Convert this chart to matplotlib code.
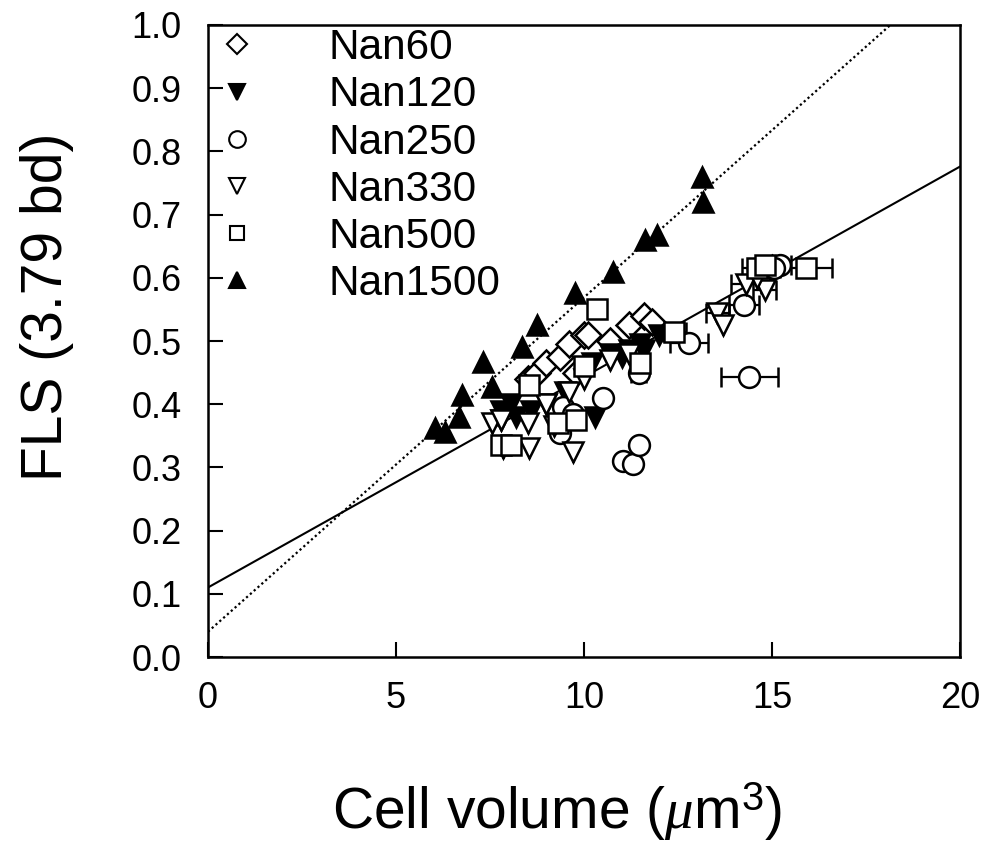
import numpy as np
import matplotlib
matplotlib.use("Agg")
import matplotlib.pyplot as plt
from matplotlib.lines import Line2D

plt.rcParams['font.family'] = ['Liberation Sans', 'DejaVu Sans']
plt.rcParams['mathtext.fontset'] = 'custom'
plt.rcParams['mathtext.it'] = 'Liberation Serif:italic'
plt.rcParams['mathtext.rm'] = 'Liberation Sans'

# données : (volume cellulaire, FLS)
nan60_x = [8.5, 8.75, 9.0, 9.35, 9.6, 9.8, 10.0, 10.1, 10.7, 11.2, 11.6, 11.8, 15.0]
nan60_y = [0.44, 0.45, 0.465, 0.475, 0.495, 0.45, 0.51, 0.51, 0.50, 0.525, 0.54, 0.53, 0.615]

nan120_x = [7.8, 7.8, 8.05, 8.2, 8.6, 9.0, 9.5, 10.1, 10.2, 10.3, 10.7, 11.0, 11.2, 11.5, 11.6, 12.0]
nan120_y = [0.39, 0.375, 0.40, 0.38, 0.39, 0.40, 0.42, 0.455, 0.465, 0.38, 0.48, 0.475, 0.485, 0.495, 0.485, 0.51]

nan250_x = [9.45, 9.35, 9.7, 10.5, 11.05, 11.3, 11.45, 11.45, 12.8, 14.4, 14.25, 15.2, 15.05]
nan250_y = [0.395, 0.355, 0.385, 0.41, 0.31, 0.305, 0.335, 0.45, 0.497, 0.443, 0.557, 0.62, 0.615]
nan250_xerr = [0, 0, 0, 0, 0, 0, 0, 0.2, 0.5, 0.75, 0.4, 0.3, 0]

nan330_x = [7.55, 7.8, 7.85, 8.5, 8.55, 9.2, 9.7, 9.0, 9.6, 10.0, 10.7, 11.2, 13.55, 13.7, 14.3, 14.8, 14.6]
nan330_y = [0.37, 0.375, 0.33, 0.37, 0.33, 0.365, 0.325, 0.40, 0.42, 0.44, 0.47, 0.48, 0.545, 0.525, 0.59, 0.58, 0.60]
nan330_xerr = [0, 0, 0, 0, 0, 0, 0, 0, 0, 0, 0, 0, 0.3, 0, 0.4, 0.3, 0]

nan500_x = [7.8, 8.05, 8.55, 9.3, 9.8, 10.35, 10.0, 11.5, 12.4, 14.6, 14.8, 15.9]
nan500_y = [0.335, 0.335, 0.43, 0.37, 0.375, 0.55, 0.46, 0.465, 0.515, 0.615, 0.62, 0.615]
nan500_xerr = [0, 0, 0, 0, 0, 0, 0, 0, 0.3, 0.4, 0, 0.7]

nan1500_x = [6.04, 6.3, 6.68, 6.75, 7.31, 7.55, 8.35, 8.75, 9.76, 10.77, 11.62, 11.94, 13.14, 13.16]
nan1500_y = [0.362, 0.356, 0.38, 0.415, 0.467, 0.427, 0.49, 0.525, 0.576, 0.609, 0.66, 0.668, 0.76, 0.72]

# droites de régression (ordonnée, pente)
fit_solid = (0.11, 0.0333)
fit_dotted = (0.04, 0.0529)

fig = plt.figure(figsize=(9.88, 8.47), dpi=100)
ax = fig.add_axes([0.2105, 0.2243, 0.7612, 0.7462])

xx = np.array([0, 20])
ax.plot(xx, fit_solid[0] + fit_solid[1] * xx, color='black', lw=1.5, zorder=1)
ax.plot(xx, fit_dotted[0] + fit_dotted[1] * xx, color='black', lw=1.6, ls=(0, (1, 1.3)), zorder=1)

ms = 15
mew = 1.8
common = dict(ls='none', markeredgecolor='black', markeredgewidth=mew,
              ecolor='black', elinewidth=1.6, capsize=7, capthick=1.6, zorder=3)
ax.errorbar(nan60_x, nan60_y, marker='D', mfc='white', ms=ms * 0.85, **common)
ax.errorbar(nan120_x, nan120_y, marker='v', mfc='black', ms=ms, **common)
ax.errorbar(nan250_x, nan250_y, xerr=nan250_xerr, marker='o', mfc='white', ms=ms, **common)
ax.errorbar(nan330_x, nan330_y, xerr=nan330_xerr, marker='v', mfc='white', ms=ms, **common)
ax.errorbar(nan500_x, nan500_y, xerr=nan500_xerr, marker='s', mfc='white', ms=ms * 0.95, **common)
ax.errorbar(nan1500_x, nan1500_y, marker='^', mfc='black', ms=ms, **common)

ax.set_xlim(0, 20)
ax.set_ylim(0, 1.0)
ax.set_xticks([0, 5, 10, 15, 20])
ax.set_yticks(np.arange(0, 1.01, 0.1))
ax.set_yticklabels([f'{v:.1f}' for v in np.arange(0, 1.01, 0.1)])
ax.tick_params(direction='in', length=11, width=1.5, labelsize=26)
ax.tick_params(axis='y', pad=19)
ax.tick_params(axis='x', pad=17)
for s in ax.spines.values():
    s.set_linewidth(1.8)

ax.set_xlabel(r'Cell volume ($\mu$m$^{3}$)', fontsize=41)
ax.xaxis.set_label_coords(0.464, -0.195)
ax.set_ylabel('FLS (3.79 bd)', fontsize=41)
ax.yaxis.set_label_coords(-0.178, 0.554)

# légende sans barres d'erreur
handles = [
    Line2D([], [], ls='none', marker='D', mfc='white', mec='black', mew=1.5, ms=10, label='Nan60'),
    Line2D([], [], ls='none', marker='v', mfc='black', mec='black', mew=1.5, ms=11, label='Nan120'),
    Line2D([], [], ls='none', marker='o', mfc='white', mec='black', mew=1.5, ms=12, label='Nan250'),
    Line2D([], [], ls='none', marker='v', mfc='white', mec='black', mew=1.5, ms=12, label='Nan330'),
    Line2D([], [], ls='none', marker='s', mfc='white', mec='black', mew=1.5, ms=10, label='Nan500'),
    Line2D([], [], ls='none', marker='^', mfc='black', mec='black', mew=1.5, ms=12, label='Nan1500'),
]
ax.legend(handles=handles, loc='upper left', frameon=False, fontsize=30.5,
          handlelength=1.9, handletextpad=1.22, labelspacing=0.17,
          borderpad=0, borderaxespad=0, bbox_to_anchor=(-0.015, 0.995))

fig.savefig('out.png', dpi=100)
